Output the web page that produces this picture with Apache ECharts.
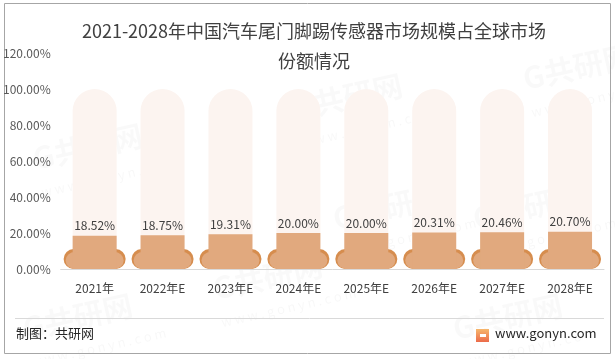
<!DOCTYPE html>
<html><head><meta charset="utf-8">
<script src="https://cdn.jsdelivr.net/npm/echarts@6/dist/echarts.min.js"></script>
<style>html,body{margin:0;padding:0;background:#fff}#c{width:615px;height:359px}</style>
</head><body><div id="c"></div>
<script>
const categories = ['2021年','2022年E','2023年E','2024年E','2025年E','2026年E','2027年E','2028年E'];
const shares = [18.52, 18.75, 19.31, 20.00, 20.00, 20.31, 20.46, 20.70];
const backgroundValues = [100, 100, 100, 100, 100, 100, 100, 100];
const yTicks = {min: 0, max: 120, interval: 20};
const titleText = '2021-2028年中国汽车尾门脚踢传感器市场规模占全球市场\n份额情况';
const sourceText = '制图：共研网';
const siteText = 'www.gonyn.com';

const font = '"Noto Sans CJK SC", "Noto Sans", sans-serif';
const pill = 'path://M10,0 H52 A10,10 0 0 1 52,20 H10 A10,10 0 0 1 10,0 Z';
const chart = echarts.init(document.getElementById('c'), null, {renderer: 'canvas'});

const wm = [];
[[30,120],[290,70],[210,250],[470,180],[520,40],[20,290],[330,180],[450,290]].forEach(p => {
  wm.push({type:'text', left:p[0], top:p[1], rotation: 0.22, silent:true, z:-1,
    style:{text:'G共研网', font:'bold 30px ' + font, fill:'rgba(0,0,0,0.025)'}});
  wm.push({type:'text', left:p[0]+10, top:p[1]+36, rotation: 0.22, silent:true, z:-1,
    style:{text:'w w w . g o n y n . c o m', font:'13px ' + font, fill:'rgba(0,0,0,0.03)'}});
});

chart.setOption({
  animation: false,
  textStyle: {fontFamily: font},
  title: {
    text: titleText, left: 309, top: 11, textAlign: 'center',
    textStyle: {fontSize: 18, fontWeight: 'normal', color: '#404040', lineHeight: 30, fontFamily: font}
  },
  grid: {left: 60, right: 11, top: 53, bottom: 90},
  xAxis: {
    type: 'category', data: categories,
    axisLine: {lineStyle: {color: '#D9D9D9', width: 1}},
    axisTick: {show: false},
    axisLabel: {color: '#404040', fontSize: 12, margin: 13, fontFamily: font}
  },
  yAxis: {
    type: 'value', min: yTicks.min, max: yTicks.max, interval: yTicks.interval,
    splitLine: {show: false}, axisLine: {show: false}, axisTick: {show: false},
    axisLabel: {color: '#595959', fontSize: 12, margin: 10, fontFamily: font,
      formatter: v => v.toFixed(2) + '%'}
  },
  series: [
    {type: 'bar', data: backgroundValues, barWidth: 44, barGap: '-100%', z: 1,
      itemStyle: {color: '#FCF4F0', borderRadius: [22, 22, 0, 0]}, silent: true},
    {type: 'pictorialBar', data: shares, symbol: pill, symbolSize: [62, 20],
      symbolPosition: 'start', z: 2, itemStyle: {color: '#D68D4E'}, silent: true},
    {type: 'pictorialBar', data: shares, symbol: pill, symbolSize: [58, 17],
      symbolPosition: 'start', z: 3, itemStyle: {color: '#E1A97E'}, silent: true},
    {type: 'bar', data: shares, barWidth: 44, z: 4,
      itemStyle: {color: '#E1A97E'},
      label: {show: true, position: 'top', distance: 4, color: '#404040', fontSize: 12,
        fontFamily: font, formatter: p => p.value.toFixed(2) + '%'}}
  ],
  graphic: wm.concat([
    {type: 'rect', shape: {x: 4.5, y: 3.5, width: 606, height: 350}, silent: true,
      style: {fill: 'none', stroke: '#A6A6A6', lineWidth: 1}},
    {type: 'line', shape: {x1: 15, y1: 318.5, x2: 604, y2: 318.5}, silent: true,
      style: {stroke: '#D9D9D9', lineWidth: 1}},
    {type: 'text', left: 16, top: 327, silent: true,
      style: {text: sourceText, font: '13px ' + font, fill: '#262626'}},
    {type: 'rect', shape: {x: 476, y: 329, width: 13, height: 13}, silent: true,
      style: {fill: new echarts.graphic.LinearGradient(0, 0, 0, 1, [
        {offset: 0, color: '#F6B76C'}, {offset: 1, color: '#EC6B4A'}])}},
    {type: 'rect', shape: {x: 480, y: 334, width: 6, height: 3}, silent: true,
      style: {fill: '#ffffff'}},
    {type: 'text', left: 495, top: 327, silent: true,
      style: {text: siteText, font: '13px ' + font, fill: '#262626'}}
  ])
});
</script></body></html>
